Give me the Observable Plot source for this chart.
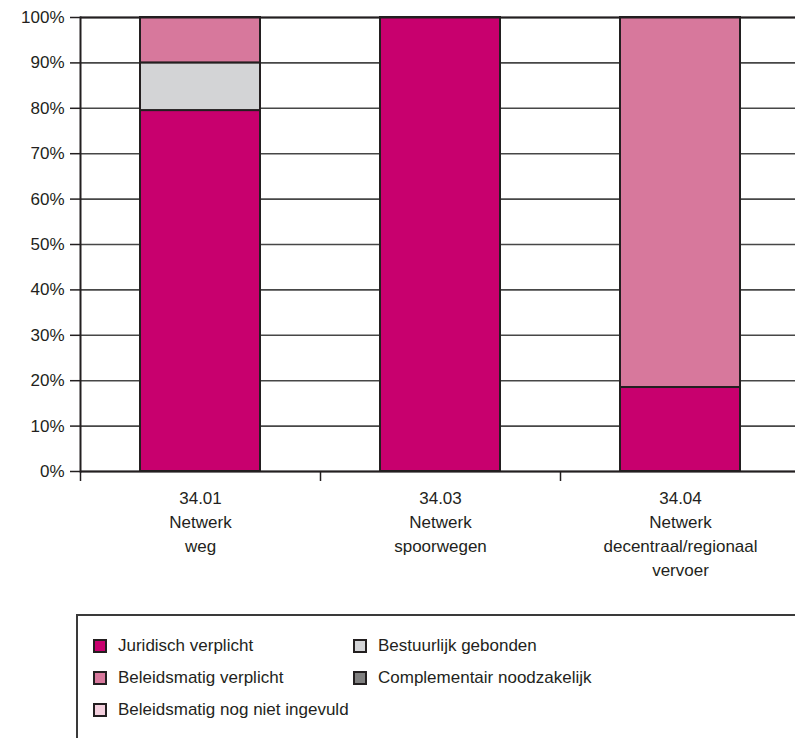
<!DOCTYPE html>
<html><head><meta charset="utf-8">
<script src="https://cdn.jsdelivr.net/npm/d3@7"></script>
<script src="https://cdn.jsdelivr.net/npm/@observablehq/plot@0.6"></script>
<style>
body{margin:0;background:#fff;font-family:"Liberation Sans Narrow","Liberation Sans",Arial,sans-serif;color:#231f20;overflow:hidden;}
#legend{position:relative;margin-left:76px;margin-top:14px;height:200px;border-top:2px solid #3a3a3a;border-left:2px solid #3a3a3a;
  display:grid;grid-auto-flow:column;grid-template-rows:repeat(3,32px);grid-template-columns:260px 300px;padding-top:14px;padding-left:15px;box-sizing:border-box;}
.item{display:flex;align-items:center;font-size:17px;white-space:nowrap;}
.sw{width:10px;height:10px;border:2px solid #231f20;margin-right:11px;flex:none;}
</style></head><body><div id="chart"></div><div id="legend"></div><script>
const categories = ["34.01\nNetwerk\nweg", "34.03\nNetwerk\nspoorwegen", "34.04\nNetwerk\ndecentraal/regionaal\nvervoer"];
const seriesNames = ["Juridisch verplicht", "Beleidsmatig verplicht", "Beleidsmatig nog niet ingevuld", "Bestuurlijk gebonden", "Complementair noodzakelijk"];
const seriesColors = ["#c8006e", "#d7789c", "#f4d0de", "#d3d4d6", "#808080"];
const juridisch = [79.5, 100, 18.5];
const bestuurlijk = [10.5, 0, 0];
const beleidsmatig = [10, 0, 81.5];
const yTicks = [0, 10, 20, 30, 40, 50, 60, 70, 80, 90, 100];

const stackOrder = [
  ["Juridisch verplicht", juridisch],
  ["Bestuurlijk gebonden", bestuurlijk],
  ["Beleidsmatig verplicht", beleidsmatig]
];
const data = [];
for (const [s, vals] of stackOrder) categories.forEach((c, i) => data.push({category: c, series: s, value: vals[i]}));

const W = 795, H = 600, mL = 80, mR = -5, mT = 17, mB = 129;
const step = (W - mR - mL) / categories.length;
const ink = "#231f20";

const chart = Plot.plot({
  width: W, height: H,
  marginLeft: mL, marginRight: mR, marginTop: mT, marginBottom: mB,
  style: {fontFamily: '"Liberation Sans Narrow","Liberation Sans",Arial,sans-serif', fontSize: "17px", color: ink, background: "#fff"},
  x: {domain: categories, paddingInner: 0.5, paddingOuter: 0.25, align: 0.5},
  y: {domain: [0, 100]},
  color: {domain: seriesNames, range: seriesColors},
  marks: [
    Plot.gridY(yTicks, {stroke: "#474747", strokeOpacity: 1, strokeWidth: 1.6}),
    Plot.barY(data, {x: "category", y: "value", fill: "series", z: "series", stroke: ink, strokeWidth: 2, inset: 0}),
    Plot.ruleY([0, 100], {stroke: ink, strokeWidth: 2}),
    Plot.frame({anchor: "left", stroke: ink, strokeWidth: 2}),
    Plot.axisY(yTicks, {tickSize: 10, tickPadding: 6, tickFormat: d => d + "%", fontSize: 17, stroke: ink, strokeWidth: 1.5, fill: ink, label: null}),
    Plot.axisX({tickSize: 10, tickFormat: null, dx: -step / 2, stroke: ink, strokeWidth: 1.5, label: null}),
    Plot.axisX({tickSize: 0, tickPadding: 16, fontSize: 17, lineHeight: 1.4, fill: ink, label: null})
  ]
});
document.getElementById("chart").appendChild(chart);

const legend = document.getElementById("legend");
seriesNames.forEach((s, i) => {
  const it = document.createElement("div");
  it.className = "item";
  const sw = document.createElement("span");
  sw.className = "sw";
  sw.style.background = seriesColors[i];
  it.appendChild(sw);
  it.appendChild(document.createTextNode(s));
  legend.appendChild(it);
});
</script></body></html>
